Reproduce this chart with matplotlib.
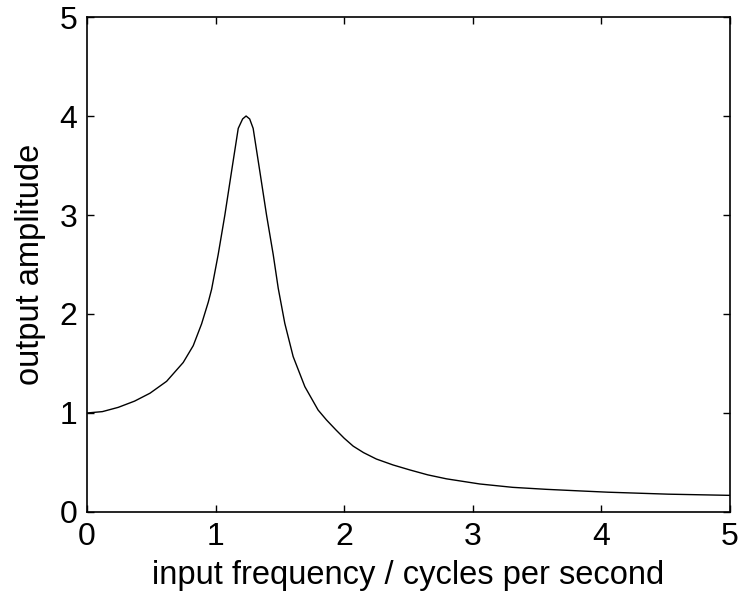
import matplotlib
matplotlib.use('Agg')
import matplotlib.pyplot as plt

# values
freq = [0.0, 0.12, 0.243, 0.37, 0.49, 0.619, 0.748, 0.826, 0.891, 0.943,
        0.969, 1.02, 1.072, 1.124, 1.176, 1.21, 1.237, 1.265, 1.292, 1.344,
        1.396, 1.448, 1.487, 1.538, 1.603, 1.694, 1.797, 1.862, 1.935, 2.0,
        2.07, 2.15, 2.25, 2.38, 2.51, 2.65, 2.795, 3.054, 3.31, 3.57, 3.83,
        4.05, 4.52, 5.0]
amplitude = [1.0, 1.014, 1.057, 1.12, 1.2, 1.32, 1.51, 1.68, 1.9, 2.12,
             2.25, 2.60, 3.0, 3.44, 3.875, 3.97, 4.0, 3.97, 3.875, 3.44,
             3.0, 2.60, 2.26, 1.906, 1.57, 1.266, 1.03, 0.93, 0.83, 0.745,
             0.665, 0.6, 0.535, 0.475, 0.425, 0.375, 0.335, 0.283, 0.249,
             0.229, 0.213, 0.2, 0.18, 0.168]

xticks = [0, 1, 2, 3, 4, 5]
yticks = [0, 1, 2, 3, 4, 5]

plt.rcParams['font.family'] = ['Liberation Sans', 'DejaVu Sans']

fig = plt.figure(figsize=(7.43, 6.01), dpi=100)
ax = fig.add_axes([0.1171, 0.1481, 0.8654, 0.8236])

ax.plot(freq, amplitude, color='black', linewidth=1.0, solid_joinstyle='round')

ax.set_xlim(0, 5)
ax.set_ylim(0, 5)
ax.set_xticks(xticks)
ax.set_yticks(yticks)
ax.tick_params(direction='in', length=5, width=1.0, labelsize=23,
               top=True, right=True, pad=7)
for s in ax.spines.values():
    s.set_linewidth(1.2)

ax.set_xlabel('input frequency / cycles per second', fontsize=23.5, labelpad=6)
ax.set_ylabel('output amplitude', fontsize=23.5, labelpad=10)

fig.savefig('out.png', dpi=100)
